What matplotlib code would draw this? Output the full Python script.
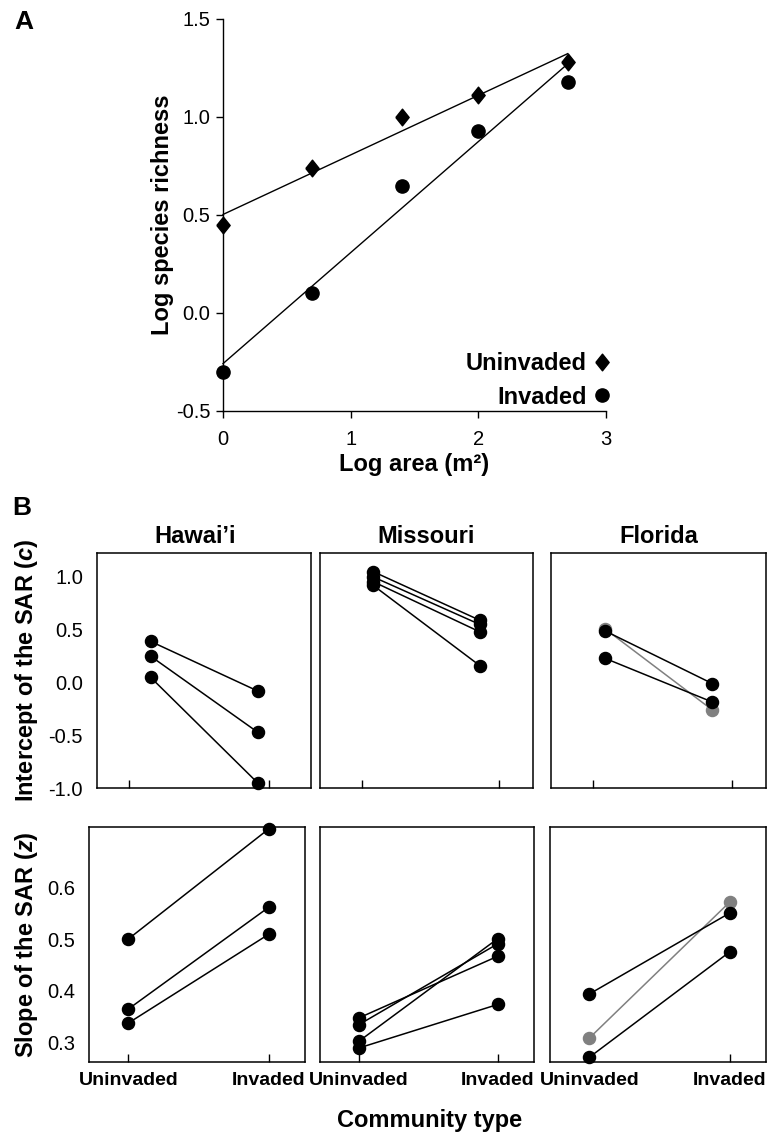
import matplotlib
matplotlib.use("Agg")
import matplotlib.pyplot as plt
from matplotlib.lines import Line2D
from matplotlib.ticker import FormatStrFormatter
from matplotlib.transforms import ScaledTranslation
import numpy as np

# Panel A: log species richness vs log area
LOG_AREA = [0.0, 0.70, 1.40, 2.00, 2.70]
RICH_UNINVADED = [0.45, 0.74, 1.00, 1.11, 1.28]
RICH_INVADED = [-0.30, 0.10, 0.65, 0.93, 1.18]

# Panel B: SAR intercept (c) and slope (z), one pair per site
REGIONS = ["Hawai\u2019i", "Missouri", "Florida"]
COMMUNITY = ["Uninvaded", "Invaded"]

HAWAII_C_UNINV = [0.39, 0.25, 0.05]
HAWAII_C_INV = [-0.08, -0.47, -0.95]
MISSOURI_C_UNINV = [1.05, 1.00, 0.955, 0.92]
MISSOURI_C_INV = [0.59, 0.55, 0.48, 0.16]
FLORIDA_C_UNINV = [0.51, 0.49, 0.23]
FLORIDA_C_INV = [-0.26, -0.01, -0.185]

HAWAII_Z_UNINV = [0.50, 0.365, 0.338]
HAWAII_Z_INV = [0.712, 0.561, 0.509]
MISSOURI_Z_UNINV = [0.348, 0.335, 0.303, 0.290]
MISSOURI_Z_INV = [0.467, 0.491, 0.501, 0.374]
FLORIDA_Z_UNINV = [0.309, 0.394, 0.272]
FLORIDA_Z_INV = [0.571, 0.550, 0.475]

# first Florida site is drawn in grey
SITE_COLORS = {
    "Hawai\u2019i": ["black"] * 3,
    "Missouri": ["black"] * 4,
    "Florida": ["#808080", "black", "black"],
}

plt.rcParams.update({
    "font.family": ["Liberation Sans", "DejaVu Sans"],
    "axes.unicode_minus": False,
    "mathtext.fontset": "custom",
    "mathtext.it": "Liberation Sans:italic:bold",
    "mathtext.rm": "Liberation Sans:bold",
})

W, H = 767, 1135
fig = plt.figure(figsize=(W / 100, H / 100), dpi=100)


def px_axes(left, top, right, bottom):
    return fig.add_axes([left / W, 1 - bottom / H, (right - left) / W, (bottom - top) / H])


DIAMOND = [(-0.4, 0), (0, 0.5), (0.4, 0), (0, -0.5), (-0.4, 0)]

# ---- Panel A ----
ax = px_axes(223, 19, 606, 411)
for y, marker, ms in [(RICH_UNINVADED, DIAMOND, 12), (RICH_INVADED, "o", 9.5)]:
    coef = np.polyfit(LOG_AREA, y, 1)
    xs = np.array([LOG_AREA[0], LOG_AREA[-1]])
    ax.plot(xs, np.polyval(coef, xs), color="black", lw=1.0, clip_on=False)
    ax.plot(LOG_AREA, y, ls="none", marker=marker, ms=ms, color="black", clip_on=False)

ax.set_xlim(0, 3)
ax.set_ylim(-0.5, 1.5)
ax.set_xticks([0, 1, 2, 3])
ax.set_yticks([-0.5, 0.0, 0.5, 1.0, 1.5])
ax.yaxis.set_major_formatter(FormatStrFormatter("%.1f"))
ax.spines["top"].set_visible(False)
ax.spines["right"].set_visible(False)
for s in ("left", "bottom"):
    ax.spines[s].set_linewidth(1.0)
ax.tick_params(direction="out", length=5, width=1.0, labelsize=14.5)
ax.tick_params(axis="x", pad=9)
ax.tick_params(axis="y", pad=4)

ax.set_ylabel("Log species richness", fontsize=17, fontweight="bold")
ax.yaxis.set_label_coords(-0.159, 0.5)
ax.yaxis.label.set_va("center")
ax.set_xlabel("Log area (m\u00b2)", fontsize=17, fontweight="bold")
ax.xaxis.set_label_coords(0.5, (411 - 465) / 392)
ax.xaxis.label.set_va("center")

handles = [
    Line2D([], [], ls="none", marker=DIAMOND, ms=12, color="black"),
    Line2D([], [], ls="none", marker="o", ms=9.5, color="black"),
]
ax.legend(handles, COMMUNITY, loc="lower right", bbox_to_anchor=(1.015, 0.0),
          markerfirst=False, frameon=False, borderaxespad=0, borderpad=0.1,
          handlelength=0.6, handletextpad=0.35, labelspacing=0.45,
          prop={"size": 17, "weight": "bold"})

fig.text(24 / W, 1 - 22 / H, "A", fontsize=19, fontweight="bold", ha="center", va="center")

# ---- Panel B ----
fig.text(22 / W, 1 - 508 / H, "B", fontsize=19, fontweight="bold", ha="center", va="center")

top_boxes = [(97, 311), (320, 533), (551, 766)]
bot_boxes = [(89, 305), (320, 534), (550, 766)]
top_ticks = [[-0.2, 1.11], [-0.11, 1.18], [-0.11, 1.18]]

c_data = [(HAWAII_C_UNINV, HAWAII_C_INV), (MISSOURI_C_UNINV, MISSOURI_C_INV),
          (FLORIDA_C_UNINV, FLORIDA_C_INV)]
z_data = [(HAWAII_Z_UNINV, HAWAII_Z_INV), (MISSOURI_Z_UNINV, MISSOURI_Z_INV),
          (FLORIDA_Z_UNINV, FLORIDA_Z_INV)]


def draw_pairs(ax, uninv, inv, colors):
    for u, v, col in zip(uninv, inv, colors):
        ax.plot([0, 1], [u, v], color=col, lw=1.1, marker="o", ms=8.7,
                mfc=col, mec=col, clip_on=False)


shift_right = ScaledTranslation(6 / 100, 0, fig.dpi_scale_trans)

for i, region in enumerate(REGIONS):
    # intercept row
    l, r = top_boxes[i]
    axc = px_axes(l, 553, r, 788)
    draw_pairs(axc, *c_data[i], SITE_COLORS[region])
    axc.set_xlim(-0.5, 1.5)
    axc.set_ylim(-1.0, 1.227)
    axc.set_xticks(top_ticks[i])
    axc.set_xticklabels([])
    axc.set_yticks([-1.0, -0.5, 0.0, 0.5, 1.0])
    axc.tick_params(axis="x", direction="in", length=6, width=1.0)
    axc.tick_params(axis="y", length=0, pad=10, labelsize=14.5)
    axc.yaxis.set_major_formatter(FormatStrFormatter("%.1f"))
    if i > 0:
        axc.set_yticklabels([])
    x_title = 0.46 if i == 0 else 0.5
    axc.set_title(region, fontsize=17, fontweight="bold", pad=7, x=x_title)

    # slope row
    l, r = bot_boxes[i]
    axz = px_axes(l, 827, r, 1062)
    draw_pairs(axz, *z_data[i], SITE_COLORS[region])
    axz.set_xlim(-0.28, 1.26)
    axz.set_ylim(0.263, 0.716)
    axz.set_xticks([0, 1])
    axz.set_xticklabels(COMMUNITY, fontsize=14, fontweight="bold")
    first = axz.get_xticklabels()[0]
    first.set_transform(first.get_transform() + shift_right)
    axz.set_yticks([0.3, 0.4, 0.5, 0.6])
    axz.tick_params(axis="x", direction="in", length=6, width=1.0, pad=7)
    axz.tick_params(axis="y", length=0, pad=10, labelsize=14.5)
    axz.yaxis.set_major_formatter(FormatStrFormatter("%.1f"))
    if i > 0:
        axz.set_yticklabels([])

    for a in (axc, axz):
        for s in a.spines.values():
            s.set_linewidth(1.1)

fig.text(27 / W, 1 - 670 / H, r"Intercept of the SAR ($\mathit{c}$)", rotation=90,
         fontsize=17, fontweight="bold", ha="center", va="center")
fig.text(27 / W, 1 - 945 / H, r"Slope of the SAR ($\mathit{z}$)", rotation=90,
         fontsize=17, fontweight="bold", ha="center", va="center")
fig.text(430 / W, 1 - 1120 / H, "Community type", fontsize=17, fontweight="bold",
         ha="center", va="center")

fig.savefig("out.png", dpi=100)
